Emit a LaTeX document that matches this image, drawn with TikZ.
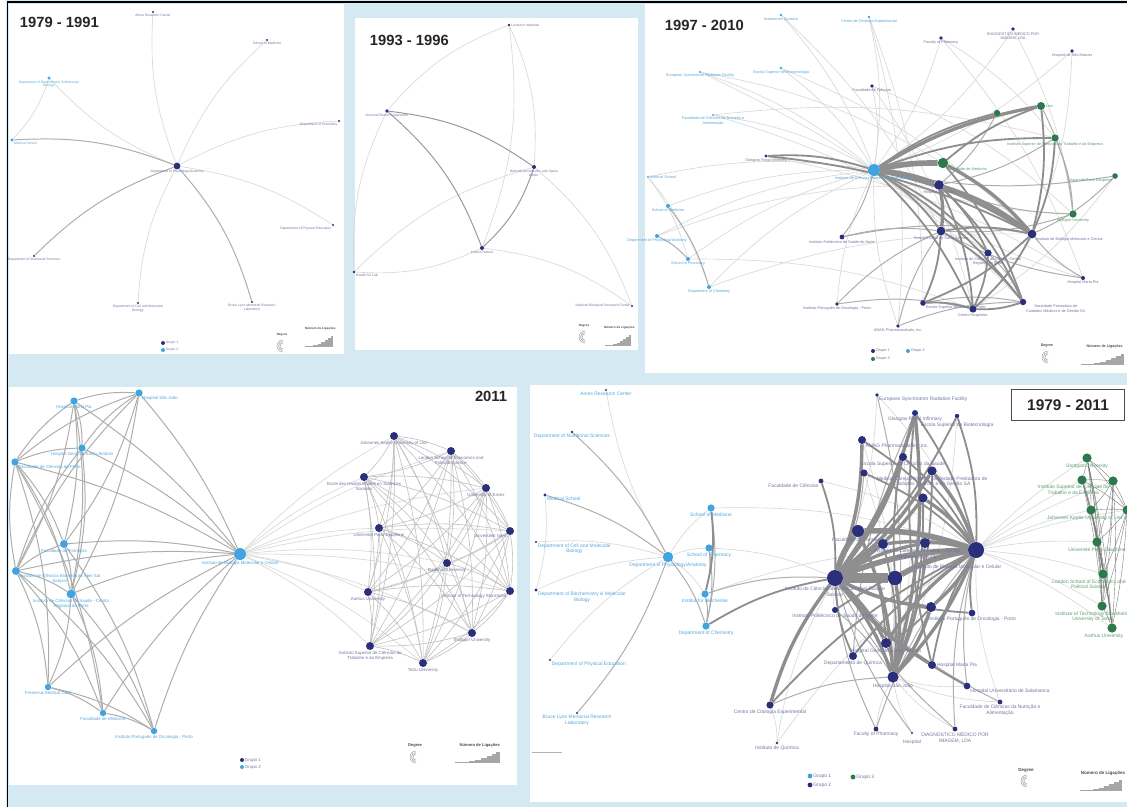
\documentclass[tikz,border=0pt]{standalone}
\usepackage{fontspec}
\setmainfont{Liberation Sans}
\usepackage{tikz}

\definecolor{bgblue}{HTML}{D5E9F2}
\definecolor{navy}{HTML}{2B2E7A}
\definecolor{sky}{HTML}{3FA4E0}
\definecolor{leaf}{HTML}{2A7A4C}
\definecolor{edgeL}{HTML}{D8D8D8}
\definecolor{edgeM}{HTML}{ADADAD}
\definecolor{edgeD}{HTML}{8E8E8E}
\definecolor{txtN}{HTML}{7474A0}
\definecolor{txtS}{HTML}{55A6DC}
\definecolor{txtG}{HTML}{5A9C72}

\pgfdeclarelayer{back}
\pgfdeclarelayer{edges}
\pgfsetlayers{back,edges,main}

\tikzset{
  nv/.style={circle,fill=navy,inner sep=0pt,minimum size=#1},
  sk/.style={circle,fill=sky,inner sep=0pt,minimum size=#1},
  gr/.style={circle,fill=leaf,inner sep=0pt,minimum size=#1},
  tn/.style={text=txtN,align=center,inner sep=0.3pt},
  ts/.style={tn,text=txtS},
  tg/.style={tn,text=txtG},
  title/.style={font=\fontsize{10.5}{12}\selectfont\bfseries,text=black!85},
  e0/.style={draw=edgeL,line width=0.45pt},
  e1/.style={draw=edgeM,line width=0.7pt},
  e2/.style={draw=edgeD,line width=1.3pt},
  e3/.style={draw=edgeD,line width=2.4pt},
  e4/.style={draw=edgeD,line width=4pt},
  e5/.style={draw=edgeD,line width=7pt},
  eg/.style={draw=black!55,line width=0.25pt},
}

\begin{document}
\begin{tikzpicture}[x=0.25mm,y=-0.25mm]
\useasboundingbox (0,0) rectangle (1127,807);

% panels
\begin{pgfonlayer}{back}
\fill[bgblue] (0,0) rectangle (1127,807);
\fill[white] (0,0) rectangle (6,807);
\fill[white] (9,4) rectangle (344,354);
\fill[white] (355,18) rectangle (638,350);
\fill[white] (645,4) rectangle (1127,373);
\fill[white] (9,387) rectangle (517,785);
\fill[white] (530,385) rectangle (1127,802);
\draw[line width=1.4pt] (7.5,807) -- (7.5,2) -- (1127,2);
\end{pgfonlayer}

% ---- 1979 - 1991
\begin{scope}[every label/.append style={font=\fontsize{2.4}{2.8}\selectfont}]
\node[title,anchor=west] (t1) at (15,22) {1979 - 1991};
\node[nv=1.7mm,label={[tn]below:{Department of Physiology/Anatomy}}] (q0) at (177,166) {};
\node[nv=0.6mm,label={[tn]below:{Ames Research Center}}] (q1) at (153,12) {};
\node[nv=0.6mm,label={[tn]below:{School of Medicine}}] (q2) at (267,40) {};
\node[sk=0.8mm,label={[ts]below:{Department of Biochemistry \& Molecular\\Biology}}] (q3) at (49,78) {};
\node[nv=0.6mm,label={[tn]below left:{Department of Chemistry}}] (q4) at (339,121) {};
\node[sk=0.8mm,label={[ts]below right:{Medical School}}] (q5) at (12,140) {};
\node[nv=0.6mm,label={[tn]below:{Department of Nutritional Sciences}}] (q6) at (34,256) {};
\node[nv=0.6mm,label={[tn]below left:{Department of Physical Education}}] (q7) at (333,225) {};
\node[nv=0.6mm,label={[tn]below:{Department of Cell and Molecular\\Biology}}] (q8) at (138,303) {};
\node[nv=0.6mm,label={[tn]below:{Bruce Lyon Memorial Research\\Laboratory}}] (q9) at (252,302) {};
\node[nv=1mm,label={[tn]right:Grupo 1}] (q1g) at (163,343) {};
\node[sk=1mm,label={[tn]right:Grupo 2}] (q2g) at (163,350) {};
\end{scope}

% ---- 1993 - 1996
\begin{scope}[every label/.append style={font=\fontsize{2.4}{2.8}\selectfont}]
\node[title,anchor=west] (t2) at (365,40) {1993 - 1996};
\node[nv=0.7mm,label={[tn]right:{Lovelace Institutes}}] (r1) at (509,25) {};
\node[nv=0.9mm,label={[tn]below:{General Electric Corporation}}] (r2) at (387,111) {};
\node[nv=1mm,label={[tn]below:{National Aeronautics and Space\\Admin.}}] (r3) at (534,167) {};
\node[nv=1mm,label={[tn]below:{Institut Pasteur}}] (r4) at (482,248) {};
\node[nv=0.7mm,label={[tn]below right:{Health Sci Lab}}] (r5) at (354,272) {};
\node[nv=0.6mm,label={[tn]left:{National Biological Research Center}}] (r6) at (632,306) {};
\end{scope}

% ---- 1997 - 2010
\begin{scope}[every label/.append style={font=\fontsize{2.7}{3.1}\selectfont}]
\node[title,anchor=west] (t3) at (660,25) {1997 - 2010};
\node[sk=0.7mm,label={[ts]below:{Instituto de Química}}] (s1) at (781,15) {};
\node[sk=0.7mm,label={[ts]below:{Centro de Citologia Experimental}}] (s2) at (869,17) {};
\node[nv=0.9mm,label={[tn]below:{Faculty of Pharmacy}}] (s3) at (941,38) {};
\node[nv=0.9mm,label={[tn]below:{DIAGNÓSTICO MÉDICO POR\\IMAGEM, LDA}}] (s4) at (1013,29) {};
\node[nv=0.9mm,label={[tn]below:{Hospital de São Marcos}}] (s5) at (1072,51) {};
\node[sk=0.6mm,label={[ts]below:{European Synchrotron Radiation Facility}}] (s6) at (700,72) {};
\node[sk=0.7mm,label={[ts]below:{Escola Superior de Biotecnologia}}] (s7) at (781,68) {};
\node[nv=0.9mm,label={[tn]below:{Faculdade de Ciências}}] (s8) at (872,86) {};
\node[sk=0.6mm,label={[ts]below:{Faculdade de Ciências da Nutrição e\\Alimentação}}] (s9) at (713,115) {};
\node[nv=0.8mm,label={[tn]below:{Glasgow Royal Infirmary}}] (s10) at (766,156) {};
\node[sk=3mm,label={[ts]below:{Instituto de Ciências Biomédicas Abel Salazar}}] (sH) at (874,170) {};
\node[gr=2.6mm,label={[tg]below right:{Faculdade de Medicina}}] (sG1) at (943,163) {};
\node[nv=2.4mm,label={[tn]below:{Hospital São João}}] (sN1) at (939,185) {};
\node[gr=1.6mm] (sG2) at (997,113) {};
\node[gr=2mm,label={[tg]right:{Linz}}] (sG3) at (1041,106) {};
\node[gr=1.8mm,label={[tg]below:{Instituto Superior de Ciências do Trabalho e da Empresa}}] (sG4) at (1055,138) {};
\node[gr=1.4mm,label={[tg]below left:{Université Paris-Dauphine}}] (sG5) at (1115,176) {};
\node[gr=1.8mm,label={[tg]below:{Stuttgart University}}] (sG6) at (1073,214) {};
\node[sk=0.6mm,label={[ts]right:{Medical School}}] (sL1) at (648,177) {};
\node[sk=1mm,label={[ts]below:{School of Medicine}}] (sL2) at (668,206) {};
\node[sk=1mm,label={[ts]below:{Department of Physiology/Anatomy}}] (sL3) at (657,236) {};
\node[sk=1mm,label={[ts]below:{School of Pharmacy}}] (sL4) at (688,259) {};
\node[sk=1mm,label={[ts]below:{Department of Chemistry}}] (sL5) at (709,287) {};
\node[nv=1.2mm,label={[tn]below:{Instituto Politécnico de Saúde do Norte}}] (sN2) at (842,237) {};
\node[nv=2.2mm,label={[tn]below:{Hospital Geral de Santo António}}] (sN3) at (941,231) {};
\node[nv=2.2mm,label={[tn]below right:{Instituto de Biologia Molecular e Celular}}] (sN4) at (1032,234) {};
\node[nv=1.8mm,label={[tn]below:{Instituto de Ciências da Saúde - Centro\\Regional do Porto}}] (sN5) at (988,253) {};
\node[nv=1mm,label={[tn]below:{Hospital Maria Pia}}] (sN6) at (1083,278) {};
\node[nv=0.9mm,label={[tn]below:{Instituto Português de Oncologia - Porto}}] (sN7) at (837,304) {};
\node[nv=1.4mm,label={[tn]below right:{Escola Superior de Saúde do Porto}}] (sN8) at (923,303) {};
\node[nv=1.8mm,label={[tn]below:{Centro Hospitalar}}] (sN9) at (973,309) {};
\node[nv=1.6mm,label={[tn]below right:{Sociedade Prestadora de\\Cuidados Médicos e de Gestão SA}}] (sN10) at (1023,302) {};
\node[nv=0.9mm,label={[tn]below:{AMAG Pharmaceuticals, Inc.}}] (sN11) at (898,326) {};
\node[nv=1mm,label={[tn]right:Grupo 1}] (s1g) at (873,351) {};
\node[sk=1mm,label={[tn]right:Grupo 2}] (s2g) at (908,351) {};
\node[gr=1mm,label={[tn]right:Grupo 3}] (s3g) at (873,359) {};
\end{scope}

% ---- 2011
\begin{scope}[every label/.append style={font=\fontsize{3.1}{3.5}\selectfont}]
\node[title,anchor=east] (t4) at (512,396) {2011};
\node[sk=3mm,label={[ts]below:{Instituto de Biologia Molecular e Celular}}] (h) at (240,554) {};
\node[sk=1.8mm,label={[ts]below:{Hospital Maria Pia}}] (L1) at (74,401) {};
\node[sk=1.8mm,label={[ts]below right:{Hospital São João}}] (L2) at (139,393) {};
\node[sk=1.8mm,label={[ts]below:{Hospital Geral de Santo António}}] (L3) at (82,448) {};
\node[sk=1.8mm,label={[ts]below right:{Faculdade de Ciências do Porto}}] (L4) at (15,462) {};
\node[sk=2mm,label={[ts]below:{Faculdade de Farmácia}}] (L5) at (64,544) {};
\node[sk=2mm,label={[ts]below right:{Instituto de Ciências Biomédicas Abel Sal\\Salazar}}] (L6) at (16,571) {};
\node[sk=2.2mm,label={[ts]below:{Instituto de Ciências da Saúde - Centro\\Regional do Porto}}] (L7) at (71,594) {};
\node[sk=1.6mm,label={[ts]below:{Fresenius Medical Care}}] (L8) at (48,687) {};
\node[sk=1.6mm,label={[ts]below:{Faculdade de Medicina}}] (L9) at (103,713) {};
\node[sk=1.6mm,label={[ts]below:{Instituto Português de Oncologia - Porto}}] (L10) at (154,731) {};
\node[nv=2mm,label={[tn]below:{Johannes Kepler University of Linz}}] (R1) at (394,436) {};
\node[nv=2mm,label={[tn]below:{London School of Economics and\\Political Science}}] (R2) at (451,451) {};
\node[nv=2mm,label={[tn]below:{Ecole des Hautes Etudes en Sciences\\Sociales}}] (R3) at (364,477) {};
\node[nv=2mm,label={[tn]below:{University of Essex}}] (R4) at (486,488) {};
\node[nv=2mm,label={[tn]below:{Université Paris-Dauphine}}] (R5) at (379,528) {};
\node[nv=2mm,label={[tn]below left:{Universiteit Gent}}] (R6) at (510,531) {};
\node[nv=2mm,label={[tn]below:{Radboud University}}] (R7) at (447,563) {};
\node[nv=2mm,label={[tn]below:{Aarhus University}}] (R8) at (368,592) {};
\node[nv=2mm,label={[tn]below left:{Institute of Technology Stockholm}}] (R9) at (510,591) {};
\node[nv=2mm,label={[tn]below:{Stuttgart University}}] (R10) at (472,633) {};
\node[nv=2mm,label={[tn]below:{Instituto Superior de Ciências do\\Trabalho e da Empresa}}] (R11) at (370,646) {};
\node[nv=2mm,label={[tn]below:{Tartu University}}] (R12) at (423,663) {};
\node[nv=1mm,label={[tn]right:Grupo 1}] (h1g) at (242,760) {};
\node[sk=1mm,label={[tn]right:Grupo 2}] (h2g) at (242,767) {};
\end{scope}

% ---- 1979 - 2011
\begin{scope}[every label/.append style={font=\fontsize{3.5}{3.9}\selectfont}]
\node[title,font=\fontsize{11}{12}\selectfont\bfseries,draw=black!70,line width=0.6pt,
  fill=white,minimum width=28.3mm,minimum height=7.7mm] (t5) at (1068,405) {1979 - 2011};
\node[nv=0.6mm,label={[ts]below:{Ames Research Center}}] (a1) at (606,390) {};
\node[nv=0.7mm,label={[ts]below:{Department of Nutritional Sciences}}] (a2) at (572,432) {};
\node[nv=0.8mm,label={[ts]below right:{Medical School}}] (a3) at (545,495) {};
\node[nv=0.6mm,label={[ts]below right:{Department of Cell and Molecular\\Biology}}] (a4) at (536,542) {};
\node[nv=0.8mm,label={[ts]below right:{Department of Biochemistry \& Molecular\\Biology}}] (a5) at (536,590) {};
\node[nv=0.6mm,label={[ts]below right:{Department of Physical Education}}] (a6) at (550,660) {};
\node[nv=0.6mm,label={[ts]below:{Bruce Lyon Memorial Research\\Laboratory}}] (a7) at (577,713) {};
\node[sk=2.6mm,label={[ts]below:{Department of Physiology/Anatomy}}] (ah) at (668,557) {};
\node[sk=1.8mm,label={[ts]below:{School of Medicine}}] (a8) at (711,508) {};
\node[sk=1.8mm,label={[ts]below:{School of Pharmacy}}] (a9) at (709,548) {};
\node[sk=1.8mm,label={[ts]below:{Institut für Biochemie}}] (a10) at (705,594) {};
\node[sk=1.8mm,label={[ts]below:{Department of Chemistry}}] (a11) at (706,626) {};
\node[nv=0.9mm,label={[tn]below right:{European Synchrotron Radiation Facility}}] (b1) at (877,395) {};
\node[nv=1.5mm,label={[tn]below:{Glasgow Royal Infirmary}}] (b2) at (915,413) {};
\node[nv=1.1mm,label={[tn,yshift=-0.9mm]below:{Escola Superior de Biotecnologia}}] (b3) at (957,416) {};
\node[nv=2mm,label={[tn]below right:{AMAG Pharmaceuticals, Inc.}}] (b4) at (862,440) {};
\node[nv=2mm,label={[tn]below:{Escola Superior de Ciências da Saúde}}] (b5) at (903,457) {};
\node[nv=1.8mm] (b6) at (864,473) {};
\node[nv=2.3mm,label={[tn]below:{Medical Compartments - Sociedade Prestadora de\\Cuidados Médicos e de Gestão SA}}] (b7) at (932,471) {};
\node[nv=1.2mm,label={[tn]below left:{Faculdade de Ciências}}] (b8) at (821,481) {};
\node[nv=2.3mm] (b9) at (923,498) {};
\node[nv=3mm,label={[tn]below:{Faculdade de Farmácia}}] (b10) at (858,531) {};
\node[nv=2.5mm] (b11) at (883,544) {};
\node[nv=2.5mm,label={[tn,xshift=-2mm]below:{Instituto de Ciências da Saúde - Centro\\Regional do Porto}}] (b12) at (925,543) {};
\node[nv=4mm,label={[tn,xshift=-4.5mm,yshift=-1.6mm]below:{Instituto de Biologia Molecular e Celular}}] (b13) at (976,550) {};
\node[nv=4mm,label={[tn]below:{Instituto de Ciências Biomédicas Abel Salazar\\Salazar}}] (b14) at (835,578) {};
\node[nv=3.6mm] (b15) at (895,578) {};
\node[nv=1.5mm,label={[tn]below:{Instituto Politécnico de Saúde do Norte}}] (b16) at (835,610) {};
\node[nv=2.5mm] (b17) at (931,607) {};
\node[nv=1.7mm,label={[tn]below:{Instituto Português de Oncologia - Porto}}] (b18) at (972,613) {};
\node[nv=2.5mm,label={[tn]below:{Hospital Geral de Santo António}}] (b19) at (886,643) {};
\node[nv=2mm,label={[tn]below:{Departamento de Química}}] (b20) at (853,656) {};
\node[nv=2mm,label={[tn]right:{Hospital Maria Pia}}] (b21) at (932,665) {};
\node[nv=2.8mm,label={[tn]below:{Hospital São João}}] (b22) at (893,677) {};
\node[nv=1.7mm,label={[tn]below right:{Hospital Universitário de Salamanca}}] (b23) at (967,686) {};
\node[nv=1.2mm,label={[tn]below:{Faculdade de Ciências da Nutrição e\\Alimentação}}] (b24) at (1000,702) {};
\node[nv=1.2mm,label={[tn]below:{Faculty of Pharmacy}}] (b25) at (876,729) {};
\node[nv=1.2mm,label={[tn]below:{DIAGNÓSTICO MÉDICO POR\\IMAGEM, LDA}}] (b26) at (955,729) {};
\node[nv=0.6mm,label={[tn,yshift=-1.2mm]below:{Hospital}}] (b27) at (912,733) {};
\node[nv=1.8mm,label={[tn]below:{Centro de Citologia Experimental}}] (b28) at (770,705) {};
\node[nv=0.7mm,label={[tn]below:{Instituto de Química}}] (b29) at (777,743) {};
\node[gr=2.3mm,label={[tg]below:{Stuttgart University}}] (k1) at (1087,458) {};
\node[gr=2.3mm] (k2) at (1082,480) {};
\node[gr=2.3mm,label={[tg]below left:{Instituto Superior de Ciências do\\Trabalho e da Empresa}}] (k3) at (1113,481) {};
\node[gr=2.3mm,label={[tg,xshift=-1.5mm]below:{Johannes Kepler University of Linz}}] (k4) at (1091,510) {};
\node[gr=2.3mm] (k5) at (1127,510) {};
\node[gr=2.3mm,label={[tg]below:{Université Paris-Dauphine}}] (k6) at (1097,542) {};
\node[gr=2.3mm,label={[tg,xshift=-3.5mm]below:{London School of Economics and\\Political Science}}] (k7) at (1103,574) {};
\node[gr=2.3mm,label={[tg,xshift=-2.5mm]below:{Institute of Technology Stockholm\\University of Tartu}}] (k8) at (1102,606) {};
\node[gr=2.3mm,label={[tg,xshift=-2mm]below:{Aarhus University}}] (k9) at (1112,628) {};
\node[sk=1.2mm,label={[tn]right:Grupo 1}] (k1g) at (810,776) {};
\node[nv=1.2mm,label={[tn]right:Grupo 2}] (k2g) at (810,785) {};
\node[gr=1.2mm,label={[tn]right:Grupo 3}] (k3g) at (853,777) {};
\draw[gray!60,line width=0.5pt] (532,752) -- (562,752);
\end{scope}

% legends: degree and bars
\foreach \dx/\dy/\bx/\by/\bw/\fs in {280/346/305/346/28/2.2, 582/337/605/345/26/2.2,
    1045/357/1081/364/43/2.6, 413/757/455/762/45/2.9, 1024/781/1080/790/42/3.2} {
  \foreach \r in {6,4.5,3}
    \draw[gray!75,line width=0.35pt] (\dx+3,\dy+\r) arc[start angle=90,end angle=270,radius=\r];
  \node[text=black!70,font=\fontsize{\fs}{\fs}\selectfont\bfseries] (deg\dx) at (\dx+2,\dy-11) {Degree};
  \node[text=black!70,font=\fontsize{\fs}{\fs}\selectfont\bfseries] (lig\dx) at (\bx+0.55*\bw,\by-17) {Número de Ligações};
  \draw[gray!70,line width=0.3pt] (\bx,\by) -- (\bx+\bw,\by);
  \foreach \f/\hh in {0.3/1.5,0.45/2.5,0.58/4,0.7/6,0.82/8,0.92/10}
    \fill[gray!70] (\bx+\f*\bw,\by) rectangle (\bx+\bw,\by-\hh);
}

% connectors
\begin{pgfonlayer}{edges}
% 1979 - 1991
\foreach \a/\b in {q0/q1,q0/q2,q0/q3,q0/q4,q0/q7,q8/q0,q3/q5}
  \draw[e0] (\a) to[bend left=12] (\b);
\foreach \a/\b in {q5/q0,q6/q0,q0/q9}
  \draw[e1] (\a) to[bend left=12] (\b);
% 1993 - 1996
\foreach \a/\b in {r2/r1,r1/r4,r1/r3,r5/r2,r5/r3,r4/r5,r3/r6,r4/r6}
  \draw[e0] (\a) to[bend left=14] (\b);
\foreach \a/\b in {r2/r3,r2/r4,r3/r4}
  \draw[e1,draw=edgeD!90] (\a) to[bend left=14] (\b);
% 1997 - 2010
\foreach \a/\b in {s1/sH,s2/sH,s2/sN8,s3/sH,s3/sG4,s4/sH,s4/sG6,s5/sH,s5/sN4,s6/sH,s6/sG1,
    s7/sH,s7/sN4,s8/sH,s8/sN9,s9/sH,s9/sG4,sL1/sH,sL1/sL4,sL1/sL5,sL2/sH,sL3/sH,sL4/sH,
    sL5/sH,sL3/sN1,sL5/sN4,sL4/sN9,sN7/sH,sN11/sH,sN6/sH,sG5/sN9,sG6/sH,s1/sN3,s3/sN6,
    s8/sG6,s2/sN11,s6/sN10,s9/sN5,s10/sN6}
  \draw[e0] (\a) to[bend left=10] (\b);
\foreach \a/\b in {sH/sN2,sN2/sN3,sN2/sN4,sN7/sN3,sN7/sN9,sN11/sN3,sN11/sN10,sN6/sN4,
    sN6/sN3,sG6/sN1,sG6/sN3,sG5/sH,sG5/sN4,sG2/sN1,sL2/sL5,sL3/sL4,sN8/sN10,sN5/sN10,
    sG4/sN1,sG4/sG6,sG3/sG6}
  \draw[e1] (\a) to[bend left=10] (\b);
\foreach \a/\b in {sH/sG2,sH/sG4,sH/sN3,sH/sN9,sH/sN10,sN1/sN9,sN1/sN10,sN3/sN4,sN3/sN8,
    sN3/sN10,sN4/sN9,sN4/sN8,sG1/sG3,sN10/sN9,sN8/sN9,sN5/sN9,s10/sN4,sH/sN5,sG1/sN10,
    sN1/sN5,sG3/sN4,sG4/sN4,s10/sH}
  \draw[e2] (\a) to[bend left=10] (\b);
\foreach \a/\b in {sH/sG3,sN1/sN3,sH/sN4,sN1/sN4,sG1/sN4}
  \draw[e3] (\a) to[bend left=10] (\b);
\foreach \a/\b in {sH/sG1,sH/sN1}
  \draw[e4] (\a) to[bend left=6] (\b);
% 2011
\foreach \r in {1,...,12}
  \draw[e0] (h) to[bend left=8] (R\r);
\foreach \l in {1,...,10}
  \draw[e1] (L\l) to[bend left=8] (h);
\foreach \i [evaluate=\i as \k using int(\i+1)] in {1,...,11}
  \foreach \j in {\k,...,12}
    \draw[e0,draw=edgeL!90!black] (R\i) to[bend left=8] (R\j);
\foreach \a/\b in {L1/L2,L1/L3,L4/L1,L1/L5,L1/L6,L1/L7,L4/L2,L2/L5,L6/L2,L2/L7,L3/L2,
    L4/L3,L3/L7,L6/L3,L4/L5,L6/L4,L4/L7,L4/L8,L4/L9,L6/L5,L5/L7,L5/L10,L6/L7,L6/L8,L6/L9,
    L6/L10,L7/L8,L7/L9,L7/L10,L8/L9,L9/L10,L8/L10}
  \draw[e1] (\a) to[bend left=10] (\b);
% 1979 - 2011
\foreach \a/\b in {ah/a1,a4/ah,a5/ah,a6/ah,ah/a8,ah/a9,ah/a10,a3/a5,a8/b13,a9/b14,b28/b29,
    b29/b13,b1/b13,b1/b14,b8/b13,b3/b22,b24/b13,b24/b22,b23/b22,b26/b22,b25/b22,b27/b22,
    b16/b14,b5/b22,b4/b22,b6/b22,a10/b13,b29/b14}
  \draw[e0] (\a) to[bend left=10] (\b);
\foreach \k in {1,...,9}
  \draw[e0] (b13) to[bend left=6] (k\k);
\foreach \i [evaluate=\i as \k using int(\i+1)] in {1,...,8}
  \foreach \j in {\k,...,9}
    \draw[eg] (k\i) to[bend left=4] (k\j);
\foreach \a/\b in {a2/ah,a3/ah,ah/a7,ah/a11,a8/a11,a9/a10,a10/a11,a9/a11,b6/b14,b1/b22,
    b23/b13,b24/b14,b25/b13,b26/b14,b27/b14,b25/b14,b26/b13,b28/b22,a10/b14,b16/b22,b20/b2}
  \draw[e1] (\a) to[bend left=10] (\b);
\foreach \a/\b in {b5/b13,b4/b13,b3/b13,b3/b14,b6/b13,b16/b13,b20/b13,b20/b14,b18/b14,
    b18/b13,b21/b13,b2/b13,b9/b22,b19/b22,b28/b13,b11/b22,b12/b22,b17/b19,b10/b19,b21/b2,
    b7/b22,b15/b2,a11/b14,a8/a10,b8/b14,b23/b14}
  \draw[e2] (\a) to[bend left=10] (\b);
\foreach \a/\b in {b14/b11,b14/b12,b11/b13,b12/b13,b14/b22,b13/b22,b14/b19,b2/b22,b2/b14,
    b7/b14,b7/b13,b9/b14,b9/b13,b17/b14,b17/b22,b19/b13,b28/b14,b5/b14,b10/b22,b13/b17,
    b4/b14,b21/b14,b15/b22}
  \draw[e3] (\a) to[bend left=10] (\b);
\foreach \a/\b in {b10/b13,b14/b13,b14/b10,b15/b13}
  \draw[e4] (\a) to[bend left=10] (\b);
\draw[e5] (b14) to (b15);
\end{pgfonlayer}
\end{tikzpicture}
\end{document}
